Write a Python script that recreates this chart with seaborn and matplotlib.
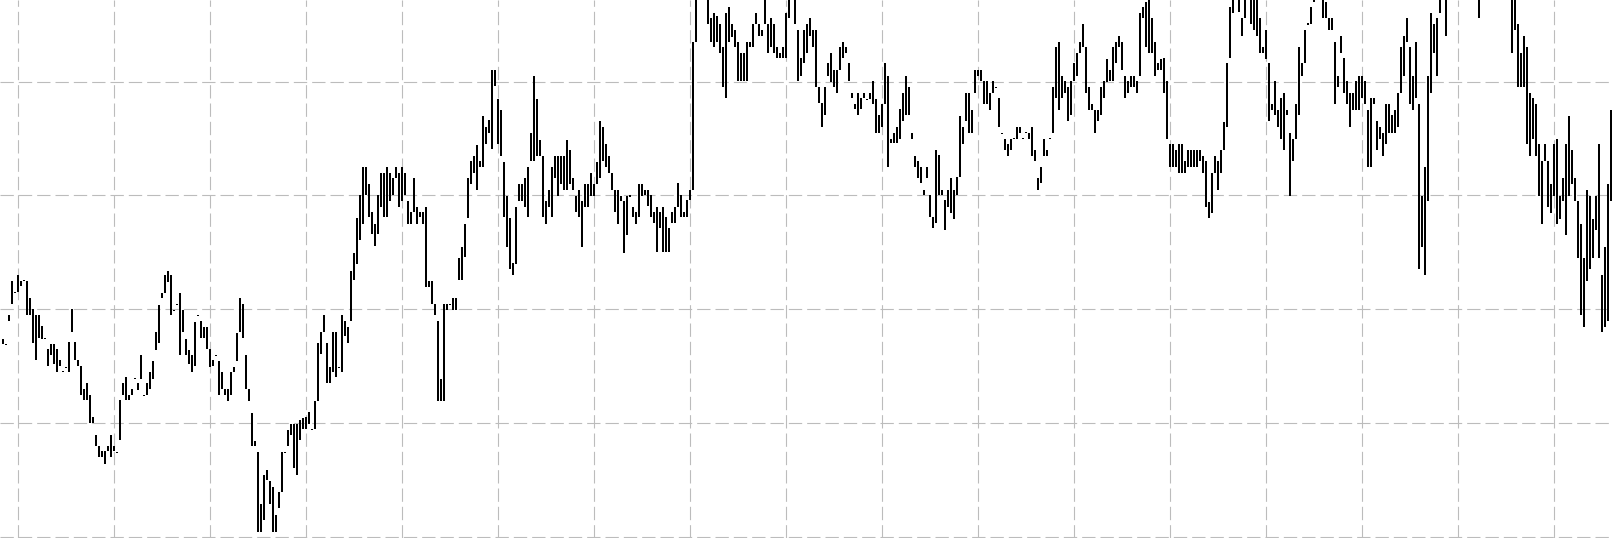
"""Daily high-low range bars on a dashed grid, no axis labels."""

import matplotlib

matplotlib.use("Agg")
import matplotlib.pyplot as plt
import numpy as np
import pandas as pd
import seaborn as sns

# daily highs and lows (bars above 57.2 fall outside the view)
highs = [
    27.4, 26.95, 29.5, 32.5, 31.55, 33.0, 32.5, 32.55, 32.5, 31.0,
    30.0, 29.5, 29.5, 28.5, 27.45, 26.5, 26.9, 26.9, 26.5, 25.5,
    24.55, 24.95, 27.1, 30.0, 27.1, 25.5, 25.0, 23.0, 23.5, 22.5,
    20.5, 18.9, 18.0, 17.5, 17.5, 18.0, 18.9, 18.0, 17.45, 22.0,
    23.5, 24.0, 22.5, 23.0, 23.95, 23.5, 25.95, 22.5, 23.5, 24.5,
    25.45, 28.0, 30.4, 31.45, 33.0, 33.4, 33.0, 29.95, 30.45, 31.45,
    29.9, 27.4, 26.45, 25.95, 28.9, 29.5, 28.95, 28.45, 28.45, 26.5,
    25.5, 26.0, 25.45, 24.5, 23.0, 22.95, 24.5, 24.95, 27.95, 30.95,
    30.45, 25.95, 22.95, 20.9, 18.4, 17.45, 12.9, 15.4, 15.9, 14.9,
    14.4, 11.9, 13.9, 17.45, 17.45, 19.4, 19.95, 19.95, 19.95, 20.3,
    20.4, 20.5, 20.97, 19.45, 21.9, 27.0, 28.0, 29.5, 27.0, 24.95,
    28.0, 28.0, 24.9, 29.5, 29.0, 28.45, 33.4, 34.9, 38.0, 40.0,
    42.5, 42.5, 41.0, 38.5, 37.5, 40.0, 42.0, 42.0, 42.5, 42.0,
    41.5, 42.5, 42.0, 42.5, 42.0, 39.5, 38.5, 41.5, 39.0, 38.5,
    38.5, 39.0, 32.5, 32.5, 30.5, 29.0, 23.9, 30.45, 30.45, 30.5,
    30.95, 30.95, 34.5, 35.5, 37.5, 41.5, 43.0, 43.5, 44.4, 43.0,
    47.0, 46.0, 46.6, 51.0, 51.0, 48.45, 47.5, 42.97, 39.97, 37.98,
    34.08, 39.0, 41.0, 41.0, 41.5, 42.5, 45.5, 50.5, 48.45, 44.9,
    43.47, 39.5, 40.47, 42.5, 43.47, 43.47, 43.47, 43.47, 44.9, 44.0,
    41.5, 39.97, 40.47, 39.5, 41.0, 41.0, 42.0, 41.0, 42.97, 46.57,
    45.98, 44.5, 43.47, 41.94, 40.47, 40.47, 39.97, 39.5, 39.97, 40.0,
    39.0, 38.5, 41.0, 41.0, 40.5, 40.5, 40.04, 38.57, 39.0, 38.57,
    39.0, 38.13, 37.1, 38.57, 39.0, 41.07, 40.04, 38.57, 39.6, 40.5,
    53.5, 58.5, 59.0, 59.0, 59.0, 58.5, 55.57, 56.0, 55.8, 55.1,
    53.07, 56.0, 56.6, 55.07, 54.5, 53.5, 52.55, 52.55, 53.5, 53.5,
    55.07, 56.0, 55.07, 54.5, 58.5, 55.07, 55.57, 55.07, 53.07, 52.55,
    53.07, 56.0, 58.5, 59.0, 58.5, 54.5, 52.05, 54.5, 55.07, 55.57,
    54.5, 54.5, 49.56, 48.1, 49.56, 51.6, 52.5, 51.0, 51.0, 53.07,
    53.5, 53.07, 51.6, 49.03, 48.03, 49.03, 48.53, 49.03, 48.52, 49.03,
    50.05, 48.47, 47.06, 48.03, 51.6, 50.5, 45.0, 45.5, 46.04, 47.56,
    49.03, 50.5, 49.56, 45.5, 43.49, 42.99, 42.5, 40.46, 42.5, 40.03,
    38.13, 43.99, 43.55, 40.5, 39.6, 40.46, 41.49, 40.46, 41.6, 46.97,
    46.04, 49.03, 49.03, 47.5, 51.0, 51.0, 51.0, 50.05, 50.05, 49.03,
    50.05, 49.55, 48.53, 45.5, 45.0, 44.51, 45.0, 45.05, 46.04, 46.04,
    45.05, 45.55, 45.5, 46.04, 43.98, 41.49, 42.5, 45.0, 43.98, 45.05,
    49.56, 53.07, 53.5, 50.5, 50.05, 49.56, 50.05, 51.6, 52.55, 53.5,
    55.07, 53.07, 49.56, 48.03, 47.5, 47.5, 49.5, 50.05, 51.96, 51.0,
    53.07, 53.5, 54.0, 53.5, 50.5, 50.05, 50.5, 50.5, 50.05, 56.0,
    56.6, 57.0, 58.0, 55.57, 53.5, 51.6, 51.96, 52.05, 50.05, 44.51,
    44.51, 43.98, 44.51, 44.51, 43.05, 43.98, 43.98, 43.98, 43.98, 43.98,
    43.49, 43.05, 39.44, 41.99, 43.49, 43.05, 43.98, 46.48, 51.6, 56.6,
    58.0, 59.0, 58.0, 55.57, 58.0, 59.0, 58.0, 58.0, 58.0, 55.57,
    53.07, 54.5, 51.6, 48.03, 50.05, 47.5, 48.53, 49.03, 47.5, 45.5,
    45.0, 48.03, 53.07, 51.6, 54.5, 55.12, 56.6, 57.5, 59.0, 59.0,
    58.0, 57.0, 55.57, 55.57, 53.5, 50.5, 54.0, 52.05, 50.05, 49.03,
    49.03, 50.05, 50.5, 50.5, 50.05, 47.5, 48.53, 48.53, 46.56, 46.04,
    45.5, 48.03, 48.03, 47.06, 47.5, 49.03, 53.07, 54.0, 55.57, 53.07,
    50.5, 53.5, 48.03, 39.97, 42.5, 50.5, 56.0, 55.07, 55.57, 58.0,
    59.0, 58.0, 59.0, 59.0, 59.0, 59.0, 59.0, 59.0, 59.0, 59.0,
    59.0, 59.0, 58.0, 59.0, 59.0, 59.0, 59.0, 59.0, 59.0, 59.0,
    59.0, 59.0, 59.0, 58.0, 58.0, 55.07, 52.55, 54.0, 53.07, 49.03,
    48.53, 48.03, 44.51, 43.02, 44.51, 43.02, 41.0, 44.51, 45.0, 39.97,
    41.49, 44.51, 46.97, 43.98, 41.49, 39.53, 37.47, 34.51, 40.46, 39.97,
    37.97, 39.97, 44.51, 32.99, 35.48, 41.0, 47.5,
]
lows = [
    26.9, 26.85, 29.0, 30.5, 31.45, 31.5, 32.0, 32.45, 29.5, 29.5,
    27.0, 25.5, 27.5, 27.4, 27.35, 25.0, 26.0, 25.2, 24.5, 25.0,
    24.45, 24.85, 24.5, 28.0, 25.5, 25.0, 22.5, 22.0, 22.0, 20.0,
    20.0, 18.0, 17.0, 17.0, 16.4, 17.5, 17.0, 17.5, 17.35, 18.5,
    22.5, 22.0, 22.0, 22.45, 23.85, 22.9, 23.9, 22.4, 22.45, 23.0,
    23.9, 26.45, 27.0, 30.95, 31.45, 32.4, 29.5, 29.85, 30.35, 25.95,
    28.0, 25.95, 25.2, 24.5, 25.0, 29.4, 27.5, 27.5, 26.5, 24.95,
    25.0, 25.9, 22.45, 22.95, 22.45, 21.95, 22.45, 24.5, 25.45, 28.0,
    27.5, 23.0, 21.95, 18.0, 17.95, 10.4, 10.4, 11.5, 14.95, 12.9,
    10.4, 10.4, 12.5, 13.9, 17.35, 17.95, 18.9, 16.0, 15.4, 18.5,
    19.5, 19.5, 19.95, 19.35, 19.5, 21.9, 26.05, 28.0, 23.5, 23.5,
    24.5, 24.05, 24.8, 24.5, 27.6, 27.0, 29.0, 32.55, 34.0, 36.1,
    37.5, 40.0, 38.1, 36.6, 35.55, 36.6, 39.0, 38.1, 38.1, 39.5,
    40.0, 41.5, 39.0, 39.5, 40.0, 37.5, 37.5, 38.5, 37.5, 38.1,
    37.5, 31.97, 31.97, 30.5, 29.5, 21.94, 21.94, 21.94, 29.97, 30.4,
    29.97, 29.97, 32.55, 32.55, 34.55, 38.0, 41.0, 42.0, 40.5, 42.5,
    42.5, 44.5, 45.5, 44.05, 49.6, 44.5, 43.47, 38.07, 35.5, 33.5,
    33.0, 34.0, 39.5, 39.5, 39.0, 38.07, 43.05, 43.05, 43.47, 43.47,
    38.07, 37.5, 39.0, 38.07, 41.5, 39.97, 41.0, 40.5, 40.5, 41.0,
    40.5, 38.5, 38.07, 35.5, 39.0, 39.0, 39.97, 39.97, 41.0, 41.5,
    43.05, 42.5, 42.0, 40.5, 38.5, 37.5, 39.5, 34.96, 36.5, 39.9,
    38.07, 37.5, 38.07, 39.97, 40.04, 39.07, 38.13, 37.55, 35.06, 37.1,
    35.06, 35.06, 35.06, 37.55, 37.55, 39.0, 38.13, 38.13, 38.13, 39.6,
    40.46, 53.5, 58.0, 58.0, 58.0, 55.1, 53.5, 53.07, 53.5, 52.55,
    49.56, 48.53, 53.5, 53.95, 53.07, 50.05, 50.05, 50.05, 50.05, 53.07,
    53.07, 55.07, 54.0, 54.0, 55.1, 52.55, 53.07, 52.55, 52.05, 52.05,
    52.05, 52.05, 55.57, 58.0, 55.07, 50.05, 50.5, 51.6, 52.55, 54.0,
    53.07, 49.56, 48.1, 46.04, 47.06, 50.5, 50.0, 49.56, 49.03, 51.0,
    52.05, 52.5, 50.05, 48.53, 47.56, 47.06, 47.56, 48.53, 48.42, 48.47,
    48.03, 45.5, 45.5, 46.04, 48.03, 42.5, 44.57, 44.57, 44.57, 45.0,
    46.56, 47.06, 47.06, 45.0, 42.5, 41.55, 41.05, 40.0, 41.55, 38.13,
    37.1, 37.54, 40.03, 40.0, 37.0, 39.0, 38.47, 37.97, 40.0, 41.6,
    44.51, 46.56, 45.5, 45.5, 49.03, 50.5, 50.05, 48.03, 48.03, 47.5,
    49.03, 49.45, 46.04, 45.4, 43.98, 43.49, 43.98, 44.95, 45.0, 45.5,
    44.95, 45.45, 45.0, 43.49, 43.05, 40.46, 41.05, 43.49, 43.49, 44.95,
    45.5, 48.53, 47.5, 48.53, 49.03, 46.56, 47.06, 50.05, 50.5, 52.55,
    53.07, 49.03, 47.5, 47.5, 45.5, 46.56, 47.06, 48.53, 50.0, 50.05,
    50.05, 51.6, 53.07, 51.0, 48.53, 49.03, 49.56, 49.56, 49.03, 50.5,
    55.57, 53.07, 52.55, 52.55, 50.5, 51.0, 51.0, 49.03, 45.0, 42.5,
    42.5, 42.5, 41.99, 41.99, 41.99, 42.5, 42.5, 42.5, 42.5, 43.05,
    41.99, 39.0, 38.06, 38.47, 41.99, 40.46, 41.99, 43.98, 46.04, 52.05,
    56.07, 58.0, 56.15, 54.0, 55.57, 58.0, 55.1, 54.5, 54.0, 52.5,
    52.55, 51.96, 46.56, 47.5, 47.06, 46.04, 45.0, 43.98, 47.06, 39.97,
    43.05, 45.0, 47.06, 50.5, 51.6, 55.02, 55.1, 57.0, 58.0, 58.0,
    55.57, 55.57, 54.5, 54.5, 48.03, 49.56, 52.55, 49.03, 48.03, 46.04,
    47.5, 47.5, 47.5, 48.53, 48.03, 42.5, 42.5, 48.03, 43.98, 45.0,
    43.49, 44.51, 45.5, 45.5, 45.5, 46.04, 49.03, 50.5, 53.5, 48.03,
    47.5, 48.53, 33.49, 35.48, 32.99, 39.53, 49.03, 52.55, 50.5, 56.07,
    58.0, 54.0, 58.0, 58.0, 58.0, 58.0, 58.0, 58.0, 58.0, 58.0,
    58.0, 58.0, 55.57, 58.0, 58.0, 58.0, 58.0, 58.0, 58.0, 58.0,
    58.0, 58.0, 58.0, 52.55, 54.5, 49.56, 49.56, 49.56, 44.51, 43.49,
    45.0, 43.49, 39.97, 37.53, 43.02, 39.0, 38.47, 39.97, 37.53, 37.97,
    39.53, 36.51, 39.97, 41.0, 39.53, 34.51, 29.47, 28.44, 32.49, 33.49,
    34.51, 36.95, 34.51, 28.0, 28.44, 28.97, 39.53,
]

y_gridlines = [10, 20, 30, 40, 50]
x_grid_first = 5
x_grid_every = 32

sns.set_theme(style="whitegrid")

bars = pd.DataFrame({"day": np.arange(len(highs)), "high": highs, "low": lows})
bars["span"] = bars["high"] - bars["low"]

fig = plt.figure(figsize=(16.12, 5.38), dpi=100)
ax = fig.add_axes([0, 0, 1, 1])

sns.barplot(
    data=bars,
    x="day",
    y="span",
    bottom=bars["low"].to_numpy(),
    color="black",
    saturation=1,
    width=0.72,
    errorbar=None,
    linewidth=0,
    antialiased=False,
    ax=ax,
)

ax.set_xlim(-0.89, 536.44)
ax.set_ylim(9.886, 57.18)
x_ticks = np.arange(x_grid_first, len(highs), x_grid_every)
ax.set_xticks(x_ticks, labels=[""] * len(x_ticks))
ax.set_yticks(y_gridlines, labels=[""] * len(y_gridlines))
ax.set_axisbelow(True)
ax.grid(True, axis="both", color="#bcbcbc", linewidth=0.8, linestyle=(0, (12, 4.5)))
ax.tick_params(length=0, labelbottom=False, labelleft=False)
ax.set_xlabel("")
ax.set_ylabel("")
for spine in ax.spines.values():
    spine.set_visible(False)

fig.savefig("out.png", dpi=100)
plt.close(fig)
